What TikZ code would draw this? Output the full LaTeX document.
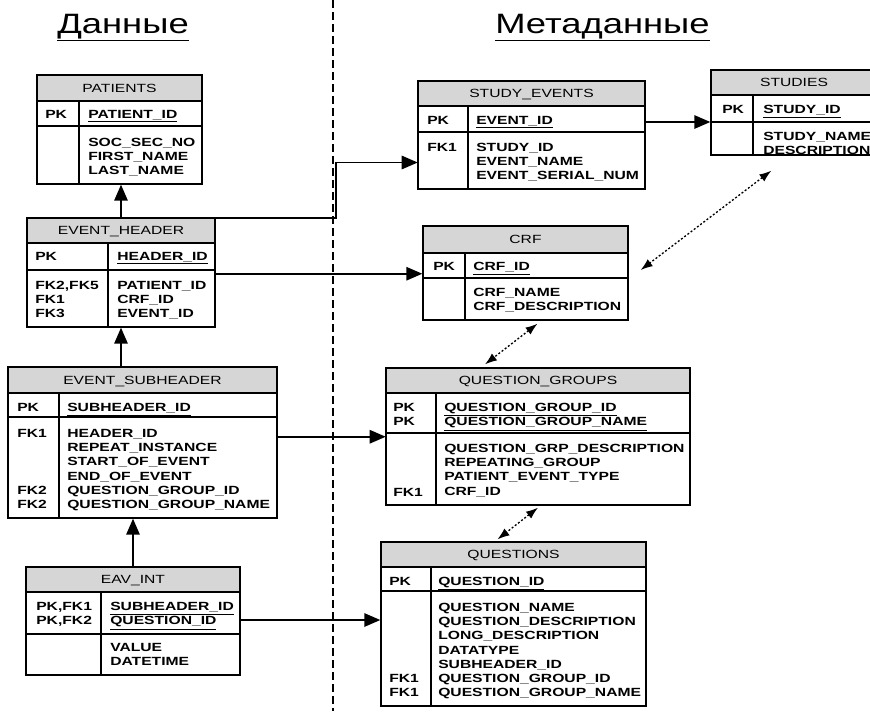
\documentclass[tikz,border=0pt]{standalone}
\usepackage{fontspec}
\usepackage{tikz}
\usetikzlibrary{arrows.meta, positioning, calc, fit}
\newfontfamily\erfont[FakeStretch=1.32]{Liberation Sans}
\newfontfamily\titlefont[FakeStretch=1.3]{Liberation Sans}

\tikzset{
	hdrfill/.style={fill=gray!32},
	tblbox/.style={draw, line width=1pt, inner sep=0pt},
	part/.style={inner sep=0pt},
	tblline/.style={line width=1pt},
	hdrtext/.style={font=\erfont\fontsize{8.9}{10.6}\selectfont, inner sep=0pt, anchor=base},
	fld/.style={font=\erfont\bfseries\fontsize{8.9}{10.65}\selectfont, align=left, inner sep=0pt, anchor=north west},
	rel/.style={line width=1.4pt, -{Triangle[length=12pt,width=10pt]}},
	assoc/.style={line width=1pt, dash pattern=on 1.5pt off 1.5pt, {Latex[length=9pt,width=6.5pt]}-{Latex[length=9pt,width=6.5pt]}},
	divline/.style={line width=1pt, dash pattern=on 6pt off 3pt},
	heading/.style={font=\titlefont\fontsize{21}{25}\selectfont, inner sep=0pt, anchor=base west}
}

% 表格:名称, 左, 上, 右, 表头底, 主键底, 底, 分隔线x, 标题
\newcommand{\ertable}[9]{%
	\fill[hdrfill] (#2,#3) rectangle (#4,#5);
	\node[tblbox, fit={(#2,#3) (#4,#7)}] (#1) {};
	\node[part, fit={(#2,#5) (#4,#6)}] (#1-pk) {};
	\node[part, fit={(#2,#6) (#4,#7)}] (#1-body) {};
	\draw[tblline] (#2,#5) -- (#4,#5) (#2,#6) -- (#4,#6) (#8,#5) -- (#8,#7);
	\node[hdrtext] (#1-title) at ({(#2+#4)/2},{(#3+#5)/2+4}) {#9};
}

\begin{document}
\begin{tikzpicture}[x=0.75pt, y=-0.75pt]
	\useasboundingbox (0,0) rectangle (870,711);
	\clip (0,0) rectangle (870,711);
	
	% 分隔线与标题
	\coordinate (divtop) at (333,0);
	\coordinate (divbot) at (333,711);
	\draw[divline] (divtop) -- (divbot);
	\node[heading] (data-title) at (57,33) {\underline{Данные}};
	\node[heading] (meta-title) at (495,33) {\underline{Метаданные}};
	
	% 左边:数据表
	\ertable{patients}{37}{75}{202}{101}{126}{184}{79}{PATIENTS}
	\node[fld] (patients-k1) at (45,110) {PK};
	\node[fld] (patients-f1) at (88,110) {\underline{PATIENT\_ID}};
	\node[fld] (patients-f2) at (88,138) {SOC\_SEC\_NO\\FIRST\_NAME\\LAST\_NAME};
	
	\ertable{evhead}{27}{218}{215}{243}{270}{327}{108}{EVENT\_HEADER}
	\node[fld] (evhead-k1) at (35,252) {PK};
	\node[fld] (evhead-f1) at (117,252) {\underline{HEADER\_ID}};
	\node[fld] (evhead-k2) at (35,281) {FK2,FK5\\FK1\\FK3};
	\node[fld] (evhead-f2) at (117,281) {PATIENT\_ID\\CRF\_ID\\EVENT\_ID};
	
	\ertable{evsub}{8}{367}{277}{393}{417}{518}{59}{EVENT\_SUBHEADER}
	\node[fld] (evsub-k1) at (17,403) {PK};
	\node[fld] (evsub-f1) at (67,403) {\underline{SUBHEADER\_ID}};
	\node[fld] (evsub-k2) at (17,429) {FK1};
	\node[fld] (evsub-k3) at (17,486) {FK2\\FK2};
	\node[fld] (evsub-f2) at (67,429) {HEADER\_ID\\REPEAT\_INSTANCE\\START\_OF\_EVENT\\END\_OF\_EVENT\\QUESTION\_GROUP\_ID\\QUESTION\_GROUP\_NAME};
	
	\ertable{eav}{26}{567}{240}{592}{634}{675}{101}{EAV\_INT}
	\node[fld] (eav-k1) at (36,602) {PK,FK1\\PK,FK2};
	\node[fld] (eav-f1) at (110,602) {\underline{SUBHEADER\_ID}\\\underline{QUESTION\_ID}};
	\node[fld] (eav-f2) at (110,643) {VALUE\\DATETIME};
	
	% 右边:元数据表
	\ertable{studyev}{418}{81}{645}{106}{132}{189}{468}{STUDY\_EVENTS}
	\node[fld] (studyev-k1) at (427,116) {PK};
	\node[fld] (studyev-f1) at (476,116) {\underline{EVENT\_ID}};
	\node[fld] (studyev-k2) at (427,143) {FK1};
	\node[fld] (studyev-f2) at (476,143) {STUDY\_ID\\EVENT\_NAME\\EVENT\_SERIAL\_NUM};
	
	\ertable{studies}{711}{70}{877}{95}{122}{155}{753}{STUDIES}
	\node[fld] (studies-k1) at (722,105) {PK};
	\node[fld] (studies-f1) at (763,105) {\underline{STUDY\_ID}};
	\node[fld] (studies-f2) at (763,132) {STUDY\_NAME\\DESCRIPTION};
	
	\ertable{crf}{423}{226}{628}{253}{278}{320}{465}{CRF}
	\node[fld] (crf-k1) at (433,262) {PK};
	\node[fld] (crf-f1) at (473,262) {\underline{CRF\_ID}};
	\node[fld] (crf-f2) at (473,288) {CRF\_NAME\\CRF\_DESCRIPTION};
	
	\ertable{qgroups}{386}{368}{690}{393}{433}{505}{436}{QUESTION\_GROUPS}
	\node[fld] (qgroups-k1) at (393,403) {PK\\PK};
	\node[fld] (qgroups-f1) at (444,403) {\underline{QUESTION\_GROUP\_ID}\\\underline{QUESTION\_GROUP\_NAME}};
	\node[fld] (qgroups-k2) at (393,488) {FK1};
	\node[fld] (qgroups-f2) at (444,444) {QUESTION\_GRP\_DESCRIPTION\\REPEATING\_GROUP\\PATIENT\_EVENT\_TYPE\\CRF\_ID};
	
	\ertable{questions}{381}{542}{646}{567}{591}{706}{431}{QUESTIONS}
	\node[fld] (questions-k1) at (389,577) {PK};
	\node[fld] (questions-f1) at (438,577) {\underline{QUESTION\_ID}};
	\node[fld] (questions-k2) at (389,674) {FK1\\FK1};
	\node[fld] (questions-f2) at (438,603) {QUESTION\_NAME\\QUESTION\_DESCRIPTION\\LONG\_DESCRIPTION\\DATATYPE\\SUBHEADER\_ID\\QUESTION\_GROUP\_ID\\QUESTION\_GROUP\_NAME};
	
	% 左边的竖向连线
	\draw[rel] (evhead.north) -- (evhead.north |- patients.south);
	\draw[rel] (evhead.south |- evsub.north) -- (evhead.south);
	\draw[rel] (eav.north) -- (eav.north |- evsub.south);
	
	% 跨越分隔线的连线
	\coordinate (elbow) at ($(divtop)+(3,0)$);
	\coordinate (eh-out1) at ($(evhead.north east)+(0,1)$);
	\coordinate (se-in) at ($(studyev-body.west)+(0,2)$);
	\draw[rel] (eh-out1) -- (eh-out1 -| elbow) |- (se-in);
	\coordinate (eh-out2) at ($(evhead-body.north east)+(0,4)$);
	\draw[rel] (eh-out2) -- (eh-out2 -| crf.west);
	\coordinate (se-out) at ($(studyev-pk.east)+(0,3)$);
	\draw[rel] (se-out) -- (se-out -| studies.west);
	\coordinate (qg-in) at ($(qgroups-body.north west)+(0,4)$);
	\draw[rel] (evsub.east |- qg-in) -- (qg-in);
	\coordinate (eav-out) at ($(eav-pk.east)+(0,7)$);
	\draw[rel] (eav-out) -- (eav-out -| questions.west);
	
	% 元数据之间的虚线双向箭头
	\draw[assoc] ($(studies.south west)+(61,15)$) -- ($(crf.east)+(12,-3)$);
	\draw[assoc] ($(crf.south)+(12,3)$) -- ($(qgroups.north)+(-53,-3)$);
	\draw[assoc] ($(qgroups.south)+(0,2)$) -- ($(questions.north)+(-16,-2)$);
\end{tikzpicture}
\end{document}
